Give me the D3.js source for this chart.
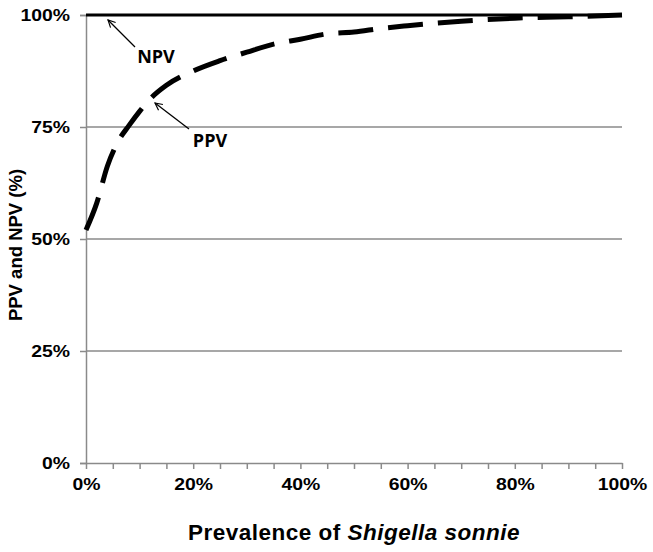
<!DOCTYPE html>
<html>
<head>
<meta charset="utf-8">
<script src="https://d3js.org/d3.v7.min.js"></script>
<style>
body { margin: 0; background: #fff; }
.note { font-family: "Open Sans", Lato, sans-serif; font-weight: bold; font-size: 18px; fill: #000; }
</style>
</head>
<body>
<div id="chart"></div>
<script>
// values (percent)
var prevalence = [0, 2, 4, 6, 8, 10, 12, 15, 20, 25, 30, 35, 40, 45, 50, 55, 60, 70, 80, 90, 100];
var ppv = [52, 58, 66.3, 71.8, 75.3, 78.5, 81.3, 84.3, 87.5, 89.8, 91.7, 93.5, 94.6, 95.8, 96.2, 97.0, 97.6, 98.6, 99.3, 99.6, 100];
var npv = [100, 100];
var npvX = [0, 100];
var yTicks = [0, 25, 50, 75, 100];
var xLabels = [0, 20, 40, 60, 80, 100];
var xMinor = d3.range(0, 101, 5);

var width = 653, height = 552;
var margin = {left: 86, right: 31, top: 15, bottom: 89};

var svg = d3.select("#chart").append("svg")
	.attr("width", width)
	.attr("height", height);

var x = d3.scaleLinear().domain([0, 100]).range([margin.left, width - margin.right]);
var y = d3.scaleLinear().domain([0, 100]).range([height - margin.bottom, margin.top]);

var grey = "#8a8a8a";

// gridlines
svg.append("g")
	.selectAll("line")
	.data(yTicks.filter(function(d) { return d > 0; }))
	.enter().append("line")
	.attr("x1", x(0)).attr("x2", x(100))
	.attr("y1", function(d) { return y(d); })
	.attr("y2", function(d) { return y(d); })
	.attr("stroke", grey)
	.attr("stroke-width", 1.5);

// y axis
var yAxis = svg.append("g")
	.attr("transform", "translate(" + x(0) + ",0)")
	.call(d3.axisLeft(y).tickValues(yTicks).tickSize(6).tickPadding(10)
		.tickFormat(function(d) { return d + "%"; }));
yAxis.selectAll("path, line").attr("stroke", grey).attr("stroke-width", 1.5);

// x axis, minor ticks every 5%
var xAxis = svg.append("g")
	.attr("transform", "translate(0," + y(0) + ")")
	.call(d3.axisBottom(x).tickValues(xMinor).tickSize(6).tickSizeOuter(0).tickPadding(9)
		.tickFormat(function(d) { return xLabels.indexOf(d) >= 0 ? d + "%" : ""; }));
xAxis.selectAll("path, line").attr("stroke", grey).attr("stroke-width", 1.5);

// the original labels are a wide heavy face: stretch them a little
svg.selectAll(".tick text")
	.style("font-family", "Liberation Sans, Arial, sans-serif")
	.style("font-weight", "bold")
	.style("font-size", "17px")
	.attr("fill", "#000")
	.each(function() {
		var w = this.getComputedTextLength();
		if (w > 0) {
			d3.select(this)
				.attr("textLength", w * 1.14)
				.attr("lengthAdjust", "spacingAndGlyphs");
		}
	});

var line = d3.line()
	.x(function(d) { return x(d[0]); })
	.y(function(d) { return y(d[1]); });

// PPV dashed curve
svg.append("path")
	.datum(d3.zip(prevalence, ppv))
	.attr("d", line.curve(d3.curveMonotoneX))
	.attr("fill", "none")
	.attr("stroke", "#000")
	.attr("stroke-width", 5)
	.attr("stroke-dasharray", "35,15");

// NPV solid line
svg.append("path")
	.datum(d3.zip(npvX, npv))
	.attr("d", line.curve(d3.curveLinear))
	.attr("fill", "none")
	.attr("stroke", "#000")
	.attr("stroke-width", 3);

// annotations
svg.append("defs").append("marker")
	.attr("id", "arrow")
	.attr("viewBox", "0 0 10 10")
	.attr("refX", 9).attr("refY", 5)
	.attr("markerWidth", 9).attr("markerHeight", 9)
	.attr("markerUnits", "userSpaceOnUse")
	.attr("orient", "auto")
	.append("path")
	.attr("d", "M1,1 L9,5 L1,9")
	.attr("fill", "none")
	.attr("stroke", "#000")
	.attr("stroke-width", 1.3);

function arrow(x1, y1, x2, y2) {
	svg.append("line")
		.attr("x1", x1).attr("y1", y1)
		.attr("x2", x2).attr("y2", y2)
		.attr("stroke", "#000")
		.attr("stroke-width", 1.3)
		.attr("marker-end", "url(#arrow)");
}
arrow(135, 47, 108, 20);
arrow(189, 129, 155, 103);

svg.append("text").attr("class", "note")
	.attr("x", 156).attr("y", 63)
	.attr("text-anchor", "middle")
	.text("NPV");
svg.append("text").attr("class", "note")
	.attr("x", 210).attr("y", 147)
	.attr("text-anchor", "middle")
	.text("PPV");

// axis titles
var xt = svg.append("text")
	.attr("x", (x(0) + x(100)) / 2)
	.attr("y", 540)
	.attr("text-anchor", "middle")
	.style("font-family", "Liberation Sans, Arial, sans-serif")
	.style("font-weight", "bold")
	.style("font-size", "22.5px")
	.style("letter-spacing", "0.5px");
xt.append("tspan").text("Prevalence of ");
xt.append("tspan").style("font-style", "italic").text("Shigella sonnie");

svg.append("text")
	.attr("transform", "translate(22," + 245 + ") rotate(-90)")
	.attr("text-anchor", "middle")
	.style("font-family", "Liberation Sans, Arial, sans-serif")
	.style("font-weight", "bold")
	.style("font-size", "18.5px")
	.text("PPV and NPV (%)");
</script>
</body>
</html>
